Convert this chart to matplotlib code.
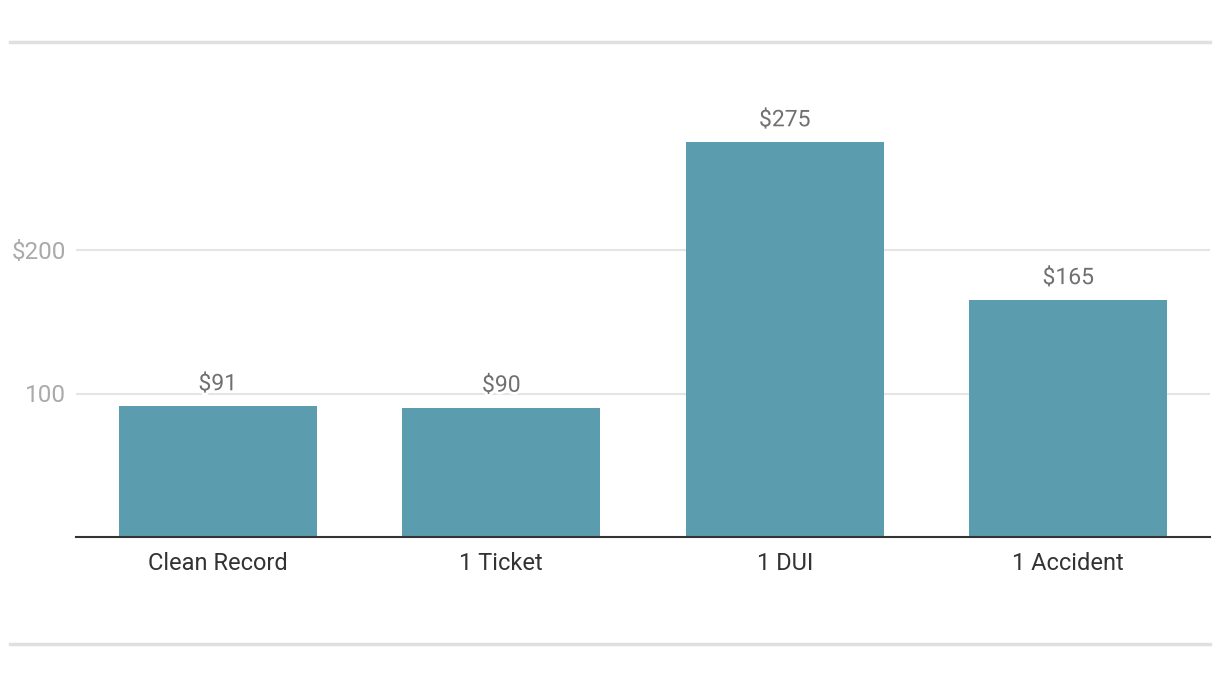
import matplotlib.pyplot as plt
import matplotlib.patheffects as pe
from matplotlib.lines import Line2D

categories = ["Clean Record", "1 Ticket", "1 DUI", "1 Accident"]
premiums = [91, 90, 275, 165]
y_ticks = [100, 200]
y_tick_labels = ["100", "$200"]

plt.rcParams['font.family'] = ['Roboto', 'DejaVu Sans']

W, H = 1220, 676
fig = plt.figure(figsize=(W / 100, H / 100), dpi=100)
ax = fig.add_axes([76 / W, (H - 537) / H, 1134 / W, (537 - 60) / H])

x = range(len(categories))
bars = ax.bar(x, premiums, width=0.7, color="#5b9daf", zorder=2)
ax.set_xlim(-0.5, len(categories) - 0.5)
ax.set_ylim(0, (537 - 60) / 1.435)

for rect, val in zip(bars, premiums):
    ax.annotate(f"${val}", (rect.get_x() + rect.get_width() / 2, val),
                xytext=(0, 8), textcoords="offset points", ha="center", va="bottom",
                fontsize=16.5, color="#707070", zorder=3,
                path_effects=[pe.withStroke(linewidth=4, foreground="white")])

ax.set_yticks(y_ticks)
ax.set_yticklabels(y_tick_labels, fontsize=17.5, color="#aaaaaa")
ax.set_xticks(list(x))
ax.set_xticklabels(categories, fontsize=17, color="#333333")
ax.tick_params(axis="y", length=0, pad=7)
ax.tick_params(axis="x", length=0, pad=11)
ax.grid(axis="y", color="#e4e4e4", linewidth=1.5, zorder=0)
for s in ["top", "right", "left"]:
    ax.spines[s].set_visible(False)
ax.spines["bottom"].set_color("#333333")
ax.spines["bottom"].set_linewidth(1.5)
ax.spines["bottom"].set_zorder(3)

# light rules above and below the chart
for yp in (41.5, 643.5):
    fig.add_artist(Line2D([10 / W, 1210 / W], [1 - yp / H, 1 - yp / H],
                          color="#e0e0e0", linewidth=2.5))

fig.savefig("out.png", dpi=100)
